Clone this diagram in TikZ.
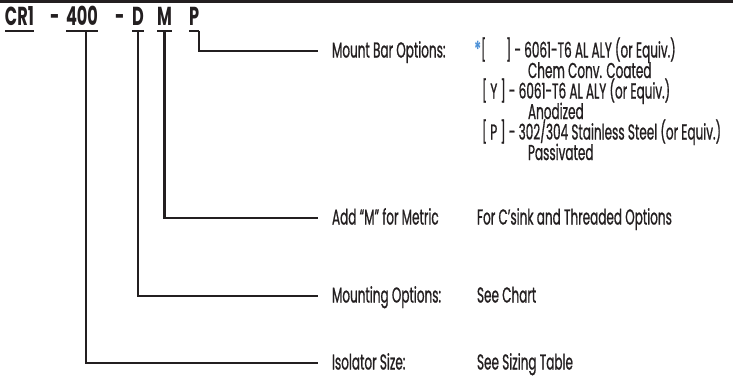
\documentclass[tikz,border=0pt]{standalone}
\usepackage{fontspec}
\setmainfont{Poppins}[FakeStretch=0.56, FakeBold=0.8]
\newfontfamily\codefont{Poppins}[FakeStretch=0.62, UprightFont=*-Bold]
\definecolor{ink}{HTML}{231F20}
\definecolor{starblue}{HTML}{4A8FD6}
\begin{document}
\begin{tikzpicture}[x=1pt,y=-1pt,
  every node/.style={inner sep=0pt, outer sep=0pt, text=ink},
  code/.style={font=\codefont\fontsize{26}{26}\selectfont, anchor=base west, text depth=0pt, inner ysep=6pt},
  lbl/.style={font=\fontsize{21.5}{21.5}\selectfont, anchor=base west, text height=13pt, text depth=0pt},
  opt/.style={font=\fontsize{21.5}{21.5}\selectfont, anchor=base west},
  conn/.style={draw=ink, line width=2.2pt, shorten >=14pt},
  uline/.style={draw=ink, line width=1.6pt}]
\useasboundingbox (0,0) rectangle (733,376);
\draw[draw=ink, line width=2.6pt] (0,1.3) -- (733,1.3);
% header code
\node[code] (cr)  at (5,25)   {CR1};
\node[code] (d1)  at (50,25)  {-};
\node[code] (n4)  at (66,25)  {400};
\node[code] (d2)  at (115,25) {-};
\node[code] (cd)  at (132,25) {D};
\node[code] (cm)  at (157,25) {M};
\node[code] (cp)  at (189,25) {P};
\foreach \n in {cr,n4,cd,cm,cp} \draw[uline] (\n.south west) -- (\n.south east);
% labels
\node[lbl] (mb)  at (332,57.5)  {Mount Bar Options:};
\node[lbl] (am)  at (332,224.5) {Add “M” for Metric};
\node[lbl] (mo)  at (332,302.5) {Mounting Options:};
\node[lbl] (is)  at (332,369.5) {Isolator Size:};
% connectors
\draw[conn] ([xshift=5pt]cp.south) |- (mb.west);
\draw[conn] (cm.south) |- (am.west);
\draw[conn] (cd.south) |- (mo.west);
\draw[conn] ([xshift=4pt]n4.south) |- (is.west);
% options
\node[opt, text=starblue, font=\codefont\fontsize{22}{22}\selectfont] (st) at (474,57.5) {*};
\node[opt] (o1) at (481,57.5) {[\makebox[20pt]{}] - 6061-T6 AL ALY (or Equiv.)};
\node[opt] (o2) at (528,78)   {Chem Conv. Coated};
\node[opt] (o3) at (482,98.5) {[ Y ] - 6061-T6 AL ALY (or Equiv.)};
\node[opt] (o4) at (528,119)  {Anodized};
\node[opt] (o5) at (482,139.5){[ P ] - 302/304 Stainless Steel (or Equiv.)};
\node[opt] (o6) at (528,160)  {Passivated};
\node[opt] (o7) at (477,224.5){For C’sink and Threaded Options};
\node[opt] (o8) at (477,302.5){See Chart};
\node[opt] (o9) at (477,369.5){See Sizing Table};
\end{tikzpicture}
\end{document}
